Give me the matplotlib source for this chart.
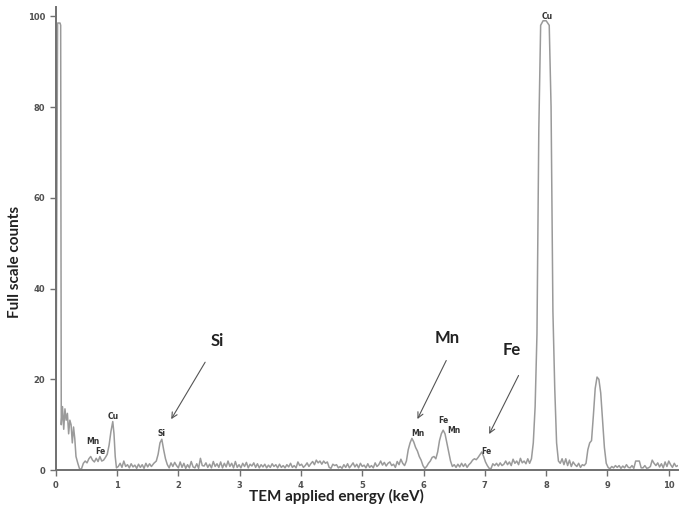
import matplotlib
matplotlib.use("Agg")
import matplotlib.pyplot as plt

# EDS spectrum (energy keV, full scale counts)
energy = [
    0.00, 0.03, 0.07, 0.08, 0.09, 0.11, 0.13, 0.15, 0.17, 0.19, 0.21, 0.23, 0.25, 0.27, 0.29,
    0.31, 0.33, 0.36, 0.39, 0.42, 0.45, 0.48, 0.51, 0.54, 0.57, 0.60, 0.63, 0.66, 0.69, 0.72,
    0.75, 0.78, 0.81, 0.84, 0.87, 0.90, 0.93, 0.95, 0.97, 0.99, 1.02, 1.05, 1.08, 1.11, 1.14,
    1.17, 1.20, 1.23, 1.26, 1.29, 1.32, 1.35, 1.38, 1.41, 1.44, 1.47, 1.50, 1.53, 1.56, 1.60,
    1.64, 1.67, 1.70, 1.73, 1.76, 1.79, 1.82, 1.85, 1.88, 1.91, 1.94, 1.97, 2.00, 2.03, 2.06,
    2.09, 2.12, 2.15, 2.18, 2.21, 2.24, 2.27, 2.30, 2.33, 2.36, 2.39, 2.42, 2.45, 2.48, 2.51,
    2.54, 2.57, 2.60, 2.63, 2.66, 2.69, 2.72, 2.75, 2.78, 2.81, 2.84, 2.87, 2.90, 2.93, 2.96,
    2.99, 3.02, 3.05, 3.08, 3.11, 3.14, 3.17, 3.20, 3.23, 3.26, 3.29, 3.32, 3.35, 3.38, 3.41,
    3.44, 3.47, 3.50, 3.53, 3.56, 3.59, 3.62, 3.65, 3.68, 3.71, 3.74, 3.77, 3.80, 3.83, 3.86,
    3.89, 3.92, 3.95, 3.98, 4.01, 4.04, 4.07, 4.10, 4.13, 4.16, 4.19, 4.22, 4.25, 4.28, 4.31,
    4.34, 4.37, 4.40, 4.43, 4.46, 4.49, 4.52, 4.55, 4.58, 4.61, 4.64, 4.67, 4.70, 4.73, 4.76,
    4.79, 4.82, 4.85, 4.88, 4.91, 4.94, 4.97, 5.00, 5.03, 5.06, 5.09, 5.12, 5.15, 5.18, 5.21,
    5.24, 5.27, 5.30, 5.33, 5.36, 5.39, 5.42, 5.45, 5.48, 5.51, 5.54, 5.57, 5.60, 5.63, 5.66,
    5.69, 5.72, 5.75, 5.78, 5.81, 5.84, 5.87, 5.90, 5.93, 5.96, 5.99, 6.02, 6.05, 6.08, 6.11,
    6.14, 6.17, 6.20, 6.23, 6.26, 6.29, 6.32, 6.35, 6.38, 6.41, 6.44, 6.47, 6.50, 6.53, 6.56,
    6.59, 6.62, 6.65, 6.68, 6.71, 6.74, 6.77, 6.80, 6.83, 6.86, 6.89, 6.92, 6.95, 6.98, 7.01,
    7.04, 7.07, 7.10, 7.13, 7.16, 7.19, 7.22, 7.25, 7.28, 7.31, 7.34, 7.37, 7.40, 7.43, 7.46,
    7.49, 7.52, 7.55, 7.58, 7.61, 7.64, 7.67, 7.70, 7.73, 7.76, 7.79, 7.82, 7.85, 7.88, 7.91,
    7.95, 8.00, 8.05, 8.08, 8.11, 8.14, 8.17, 8.20, 8.23, 8.26, 8.29, 8.32, 8.35, 8.38, 8.41,
    8.44, 8.47, 8.50, 8.53, 8.56, 8.59, 8.62, 8.65, 8.68, 8.71, 8.74, 8.77, 8.80, 8.83, 8.86,
    8.89, 8.92, 8.95, 8.98, 9.01, 9.04, 9.07, 9.10, 9.13, 9.16, 9.19, 9.22, 9.25, 9.28, 9.31,
    9.34, 9.37, 9.40, 9.43, 9.46, 9.49, 9.52, 9.55, 9.58, 9.61, 9.64, 9.67, 9.70, 9.73, 9.76,
    9.79, 9.82, 9.85, 9.88, 9.91, 9.94, 9.97, 10.00, 10.03, 10.06, 10.09, 10.12, 10.15,
]
counts = [
    0.0, 98.5, 98.5, 98.0, 10.0, 14.0, 9.0, 13.5, 11.0, 12.5, 8.0, 11.0, 10.0, 6.0, 9.5,
    7.0, 3.0, 1.5, 0.2, 0.3, 1.5, 2.0, 1.6, 2.5, 3.0, 2.2, 1.8, 2.6, 1.9, 3.0,
    2.0, 2.2, 2.8, 3.5, 5.5, 8.5, 10.7, 8.0, 3.0, 0.5, 0.8, 1.5, 0.6, 2.0, 0.8,
    1.2, 0.5, 1.4, 0.7, 1.1, 0.4, 1.3, 0.6, 1.2, 0.4, 1.5, 0.7, 1.4, 0.8, 1.5,
    2.0, 3.5, 6.0, 6.8, 4.5, 2.5, 1.2, 0.5, 1.6, 0.8, 1.7, 1.0, 0.5, 1.8, 0.6,
    1.5, 0.4, 1.2, 0.5, 1.9, 0.7, 0.5, 1.4, 0.4, 2.6, 1.0, 0.9, 1.6, 0.6, 1.3,
    0.5, 1.9, 0.8, 1.4, 0.6, 1.8, 0.5, 1.5, 0.7, 2.0, 0.8, 1.5, 0.5, 1.9, 0.6,
    1.2, 0.5, 1.5, 0.8, 1.7, 0.5, 1.3, 0.9, 1.6, 0.6, 1.4, 0.5, 1.2, 0.7, 1.3,
    0.5, 1.1, 0.6, 1.4, 0.8, 1.2, 0.5, 1.3, 0.6, 1.0, 0.5, 1.2, 0.7, 1.5, 0.6,
    1.0, 0.5, 1.8, 1.0, 1.3, 0.6, 1.0, 1.6, 0.8, 1.4, 1.9, 1.2, 2.2, 1.6, 2.0,
    1.3, 2.0, 1.5, 1.8, 0.6, 0.4, 1.3, 1.0, 1.2, 0.5, 0.8, 0.4, 1.2, 0.6, 1.4,
    0.5, 1.0, 1.6, 0.7, 1.3, 0.5, 1.5, 0.8, 1.1, 0.5, 1.4, 0.6, 1.0, 0.5, 1.6,
    0.8, 1.2, 2.0, 1.1, 1.7, 0.9, 1.5, 1.8, 1.0, 1.3, 0.6, 1.9, 1.2, 2.4, 1.5,
    1.0, 2.0, 4.5, 6.0, 7.0, 6.2, 5.0, 4.2, 3.0, 2.2, 1.0, 0.4, 0.8, 1.5, 2.0,
    2.8, 3.0, 2.5, 4.0, 6.5, 8.0, 8.8, 8.0, 6.0, 4.0, 2.0, 0.8, 1.2, 0.6, 1.3,
    0.7, 1.5, 0.8, 1.4, 0.6, 1.2, 1.6, 2.2, 2.5, 2.3, 2.8, 3.4, 4.0, 3.0, 1.8,
    1.0, 0.4, 0.3, 1.4, 1.0, 1.5, 0.9, 1.6, 1.0, 1.3, 2.0, 1.2, 1.8, 1.0, 2.4,
    1.5, 2.0, 1.2, 2.6, 1.6, 2.0, 1.4, 2.5, 1.5, 2.5, 6.0, 14.0, 30.0, 75.0, 98.0,
    99.0, 99.0, 98.0, 80.0, 35.0, 18.0, 6.0, 2.0, 1.5, 2.5, 1.2, 2.5, 1.0, 2.2, 0.8,
    1.8, 1.2, 0.8, 1.5, 0.6, 1.2, 1.0, 1.5, 4.5, 6.0, 6.5, 12.0, 18.0, 20.5, 20.0,
    17.0, 11.0, 5.0, 1.5, 0.6, 0.3, 0.8, 0.5, 1.0, 0.6, 1.0, 0.4, 0.9, 0.5, 1.2,
    0.6, 0.5, 1.0, 0.4, 2.0, 2.0, 2.0, 0.5, 0.5, 1.0, 0.4, 0.5, 0.8, 2.2, 1.5,
    1.0, 1.6, 0.7, 1.4, 0.5, 1.8, 0.8, 2.0, 1.2, 0.6, 1.5, 0.8, 1.0,
]

# small element tags on the peaks
tag_text = ["Cu", "Mn", "Fe", "Si", "Mn", "Fe", "Mn", "Fe", "Cu"]
tag_x = [0.935, 0.61, 0.72, 1.72, 5.91, 6.33, 6.50, 7.03, 8.01]
tag_y = [11.9, 6.2, 4.0, 8.1, 8.1, 11.0, 8.8, 4.2, 100.0]

# big callouts with arrows
call_text = ["Si", "Mn", "Fe"]
call_xy = [(2.64, 28.5), (6.39, 29.1), (7.44, 26.5)]
arrow_from = [(2.46, 24.3), (6.39, 24.7), (7.57, 21.4)]
arrow_to = [(1.86, 10.7), (5.88, 10.7), (7.05, 7.4)]

fig = plt.figure(figsize=(6.8, 5.11), dpi=100)
ax = fig.add_axes([0.082, 0.080, 0.915, 0.906])

ax.plot(energy, counts, color="#9a9a9a", lw=1.1)

ax.set_xlim(0, 10.15)
ax.set_ylim(0, 102)
ax.set_xticks(range(0, 11))
ax.set_yticks([0, 20, 40, 60, 80, 100])

for side in ["top", "right"]:
    ax.spines[side].set_visible(False)
for side in ["left", "bottom"]:
    ax.spines[side].set_color("#707070")
    ax.spines[side].set_linewidth(1.4)
ax.tick_params(colors="#707070", labelcolor="#505050", labelsize=6, length=4, width=1)
for lab in ax.get_xticklabels() + ax.get_yticklabels():
    lab.set_fontweight("bold")

for t, x, y in zip(tag_text, tag_x, tag_y):
    ax.text(x, y, t, fontsize=5.5, fontweight="bold", color="#333333", ha="center", va="center")

for t, xy in zip(call_text, call_xy):
    ax.text(xy[0], xy[1], t, fontsize=12, fontweight="bold", family="Lato",
            color="#222222", ha="center", va="center")
for a, b in zip(arrow_from, arrow_to):
    ax.annotate("", xy=b, xytext=a,
                arrowprops=dict(arrowstyle="->", color="#555555", lw=0.8))

fig.text(336 / 680, 1 - 496 / 511, "TEM applied energy (keV)", fontsize=11,
         fontweight="bold", family="Lato", color="#222222", ha="center", va="center")
fig.text(15 / 680, 1 - 262 / 511, "Full scale counts", fontsize=11, rotation=90,
         fontweight="bold", family="Lato", color="#222222", ha="center", va="center")

fig.savefig("out.png", dpi=100)
